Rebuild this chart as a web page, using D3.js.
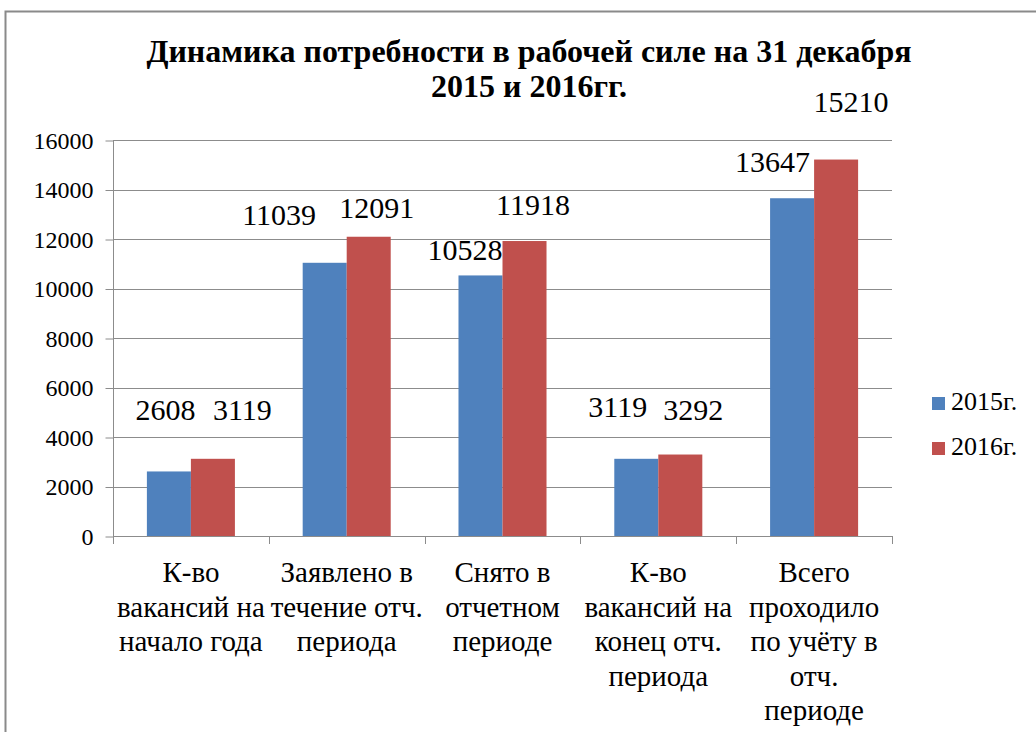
<!DOCTYPE html>
<html>
<head>
<meta charset="utf-8">
<script src="https://cdn.jsdelivr.net/npm/d3@7"></script>
<style>
  html, body { margin: 0; padding: 0; background: #fff; }
  svg { display: block; }
</style>
</head>
<body>
<script>
// ---- data ----
const titleLines = ["Динамика потребности в рабочей силе на 31 декабря", "2015 и 2016гг."];
const categories = [
  "К-во\nвакансий на\nначало года",
  "Заявлено в\nтечение отч.\nпериода",
  "Снято в\nотчетном\nпериоде",
  "К-во\nвакансий на\nконец отч.\nпериода",
  "Всего\nпроходило\nпо учёту в\nотч.\nпериоде"
];
const seriesNames = ["2015г.", "2016г."];
const values2015 = [2608, 11039, 10528, 3119, 13647];
const values2016 = [3119, 12091, 11918, 3292, 15210];
const yTickValues = [0, 2000, 4000, 6000, 8000, 10000, 12000, 14000, 16000];

// ---- layout / style ----
const W = 1036, H = 732;
const FONT = "Liberation Serif";
const colors = ["#4F81BD", "#C0504D"];
const plot = { left: 113, right: 892, top: 140, bottom: 536 };
// manual nudges of the data labels relative to bar top centre [dx, dy]
const labelNudges = [
  [[-3.5, -51.5], [-45.5, -37.8], [-15.5, -15.4], [-18.5, -41.8], [-19.5, -26.2]],
  [[29.5, -38.8], [8, -18.8], [8.5, -26], [13, -34.5], [15, -47.6]]
];

const svg = d3.select("body").append("svg").attr("width", W).attr("height", H);
svg.append("rect").attr("width", W).attr("height", H).attr("fill", "#fff");

// outer chart border (extends past the photographed area)
svg.append("rect")
  .attr("x", 5.5).attr("y", 11.5).attr("width", 1100).attr("height", 900)
  .attr("fill", "none").attr("stroke", "#8a8a8a").attr("stroke-width", 2);

// title
svg.append("g").selectAll("text").data(titleLines).join("text")
  .attr("x", 529).attr("y", (d, i) => 62 + i * 35)
  .attr("text-anchor", "middle")
  .attr("font-family", FONT)
  .attr("font-size", 32).attr("font-weight", "bold")
  .text(d => d);

const y = d3.scaleLinear().domain([0, 16000]).range([plot.bottom, plot.top]);
const x0 = d3.scaleBand().domain(categories).range([plot.left, plot.right]).padding(0);
const x1 = d3.scaleBand().domain(seriesNames).range([0, x0.bandwidth()])
  .paddingInner(0).paddingOuter(0.77);

// gridlines
svg.append("g").selectAll("line").data(yTickValues.filter(v => v > 0)).join("line")
  .attr("x1", plot.left).attr("x2", plot.right)
  .attr("y1", d => Math.round(y(d)) + 0.5).attr("y2", d => Math.round(y(d)) + 0.5)
  .attr("stroke", "#8c8c8c").attr("stroke-width", 1);

// y axis
const yAxis = d3.axisLeft(y).tickValues(yTickValues).tickSize(8).tickPadding(12).tickFormat(d3.format("d"));
const gy = svg.append("g").attr("transform", `translate(${plot.left + 0.5},0.5)`).call(yAxis);
gy.attr("font-family", FONT).attr("font-size", 24);
gy.select(".domain").attr("stroke", "#8c8c8c").attr("d", `M0,${plot.top}V${plot.bottom + 7}`);
gy.selectAll(".tick line").attr("stroke", "#8c8c8c");
gy.selectAll(".tick text").attr("font-family", FONT).attr("font-size", 24).attr("fill", "#000");

// bars
const seriesValues = [values2015, values2016];
const barData = [];
categories.forEach((c, i) => seriesNames.forEach((s, j) => {
  barData.push({ cat: c, ser: s, val: seriesValues[j][i], i, j });
}));

svg.append("g").selectAll("rect").data(barData).join("rect")
  .attr("x", d => x0(d.cat) + x1(d.ser))
  .attr("y", d => y(d.val))
  .attr("width", x1.bandwidth())
  .attr("height", d => y(0) - y(d.val))
  .attr("fill", d => colors[d.j]);

// x axis
const boundaries = categories.map(c => x0(c)).concat([plot.right]);
const gx = svg.append("g");
gx.append("line").attr("x1", plot.left).attr("x2", plot.right)
  .attr("y1", plot.bottom + 0.5).attr("y2", plot.bottom + 0.5).attr("stroke", "#8c8c8c");
gx.selectAll("line.t").data(boundaries).join("line").attr("class", "t")
  .attr("x1", d => Math.round(d) + 0.5).attr("x2", d => Math.round(d) + 0.5)
  .attr("y1", plot.bottom).attr("y2", plot.bottom + 8).attr("stroke", "#8c8c8c");

// category labels
const catG = svg.append("g");
categories.forEach(c => {
  const cx = x0(c) + x0.bandwidth() / 2;
  const t = catG.append("text")
    .attr("x", cx).attr("y", 582)
    .attr("text-anchor", "middle")
    .attr("font-family", FONT).attr("font-size", 29);
  c.split("\n").forEach((line, k) => {
    t.append("tspan").attr("x", cx).attr("y", 582 + k * 34.5).text(line);
  });
});

// data labels
svg.append("g").selectAll("text").data(barData).join("text")
  .attr("x", d => x0(d.cat) + x1(d.ser) + x1.bandwidth() / 2 + labelNudges[d.j][d.i][0])
  .attr("y", d => y(d.val) + labelNudges[d.j][d.i][1])
  .attr("text-anchor", "middle")
  .attr("font-family", FONT).attr("font-size", 30)
  .text(d => d.val);

// legend
const lg = svg.append("g").selectAll("g").data(seriesNames).join("g")
  .attr("transform", (d, i) => `translate(932,${397 + i * 45})`);
lg.append("rect").attr("width", 13).attr("height", 13).attr("fill", (d, i) => colors[i]);
lg.append("text").attr("x", 19).attr("y", 13)
  .attr("font-family", FONT).attr("font-size", 26).text(d => d);
</script>
</body>
</html>
